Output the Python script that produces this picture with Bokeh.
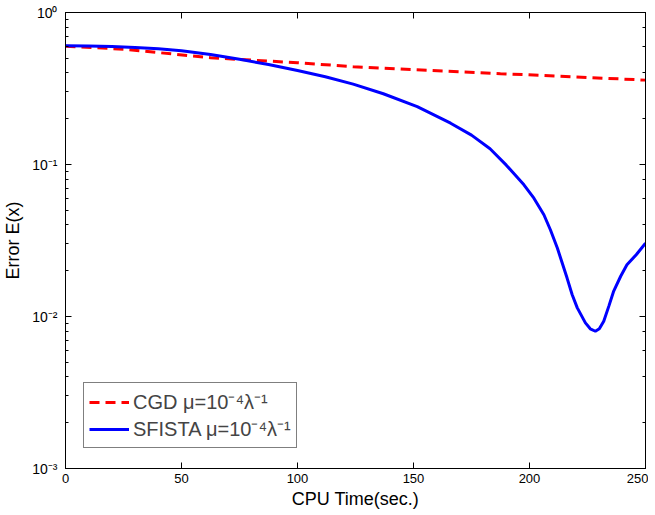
from bokeh.plotting import figure
from bokeh.models import (LinearAxis, LogAxis, Legend, LegendItem,
                          CustomJSTickFormatter, FixedTicker, Range1d)
from bokeh.embed import file_html
from bokeh.resources import INLINE

# ---- data ----
cgd_t = [0, 25, 62.5, 100, 124, 150, 187.5, 220, 250]
cgd_e = [0.600, 0.574, 0.504, 0.467, 0.440, 0.421, 0.396, 0.377, 0.359]

sf_t = [0, 10, 20, 30, 40, 50, 62.5, 75, 87.5, 100, 112, 124, 137, 151.6,
        166, 175, 183, 190, 197.6, 201.9, 206.2, 209, 212, 214.1, 216.2,
        218.4, 220.6, 224.1, 226.2, 228.4, 230.1, 232, 234.2, 236.3,
        239.3, 242, 246, 250]
sf_e = [0.605, 0.602, 0.597, 0.588, 0.577, 0.560, 0.530, 0.492, 0.455,
        0.415, 0.378, 0.338, 0.292, 0.240, 0.187, 0.156, 0.127, 0.099,
        0.0735, 0.060, 0.0467, 0.0372, 0.0282, 0.0225, 0.0179, 0.0139,
        0.0114, 0.00908, 0.0083, 0.0080, 0.0083, 0.0093, 0.0117, 0.0147,
        0.0184, 0.0219, 0.0255, 0.0304]

x_ticks = [0, 50, 100, 150, 200, 250]

FONT = "Liberation Sans"

p = figure(frame_width=580, frame_height=456, y_axis_type="log",
           x_range=Range1d(0, 250), y_range=Range1d(1e-3, 1.0),
           output_backend="svg", toolbar_location=None,
           min_border_left=59, min_border_top=12, min_border_right=2,
           min_border_bottom=30)
p.background_fill_color = "white"
p.border_fill_color = "white"
p.grid.visible = False
p.outline_line_color = "black"
p.outline_line_width = 1

fmt = CustomJSTickFormatter(code="""
const sup = {'-':'\\u207b','0':'\\u2070','1':'\\u00b9','2':'\\u00b2','3':'\\u00b3'};
const e = Math.round(Math.log10(tick));
return '10' + String(e).split('').map(c => sup[c]).join('');
""")
blank = CustomJSTickFormatter(code="return ' ';")

def style(ax, labels=True):
    ax.axis_line_color = "black"
    ax.axis_line_width = 1
    ax.major_tick_in = 6
    ax.major_tick_out = 0
    ax.minor_tick_in = 3
    ax.minor_tick_out = 0
    ax.major_tick_line_color = "black"
    ax.minor_tick_line_color = "black"
    ax.major_label_text_font = FONT
    ax.major_label_text_font_size = "13px"
    ax.major_label_text_color = "black"
    ax.axis_label_text_font = FONT
    ax.axis_label_text_font_size = "18px"
    ax.axis_label_text_font_style = "normal"
    ax.axis_label_text_color = "black"
    if not labels:
        ax.formatter = blank
        ax.major_label_text_font_size = "1px"
        ax.major_label_standoff = 0

xa = p.xaxis[0]
style(xa)
xa.ticker = FixedTicker(ticks=x_ticks)
xa.minor_tick_line_color = None
xa.axis_label = "CPU Time(sec.)"
xa.major_label_standoff = 5
xa.axis_label_standoff = 3

ya = p.yaxis[0]
style(ya)
ya.formatter = fmt
ya.major_label_text_font_size = "14px"
ya.axis_label = "Error E(x)"
ya.major_label_standoff = 8
ya.axis_label_standoff = 6

top = LinearAxis(ticker=FixedTicker(ticks=x_ticks))
style(top, labels=False)
top.minor_tick_line_color = None
p.add_layout(top, "above")

right = LogAxis()
style(right, labels=False)
p.add_layout(right, "right")

r1 = p.line(cgd_t, cgd_e, line_color="#ff0000", line_width=3,
            line_dash="10 6")
r2 = p.line(sf_t, sf_e, line_color="#0000ff", line_width=3)

legend = Legend(items=[
    LegendItem(label="CGD \u03bc=10\u207b\u2074\u03bb\u207b\u00b9", renderers=[r1]),
    LegendItem(label="SFISTA \u03bc=10\u207b\u2074\u03bb\u207b\u00b9", renderers=[r2]),
], location=(18, 20))
legend.label_text_font = FONT
legend.label_text_font_size = "20px"
legend.border_line_color = "black"
legend.border_line_width = 1
legend.background_fill_alpha = 1.0
legend.glyph_width = 40
legend.glyph_height = 22
legend.label_height = 22
legend.spacing = 0
legend.padding = 5
legend.margin = 0
legend.label_standoff = 4
p.add_layout(legend, "center")

open("out.html", "w").write(file_html(p, INLINE))
